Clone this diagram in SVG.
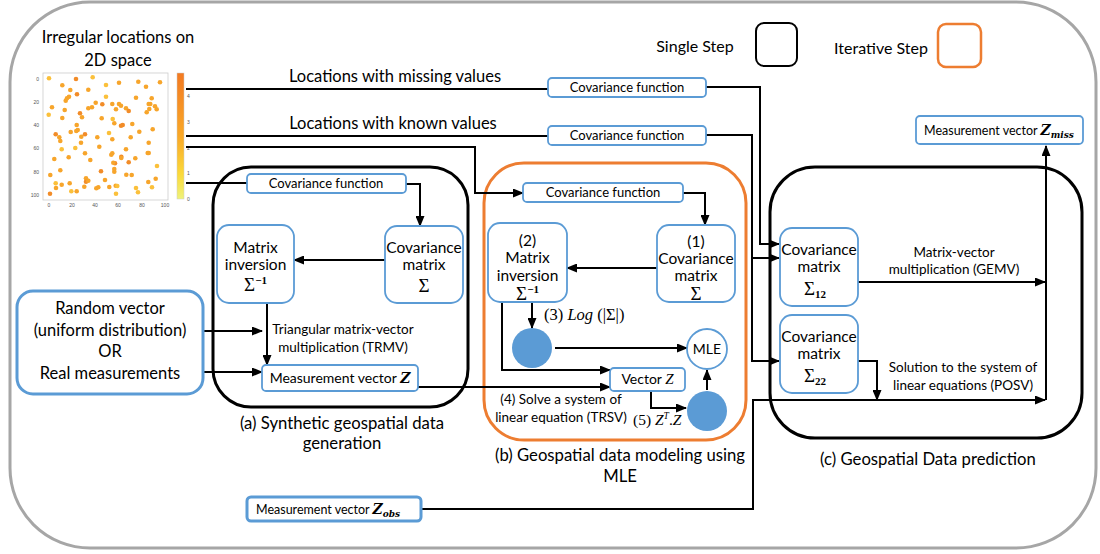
<svg xmlns="http://www.w3.org/2000/svg" width="1100" height="554" viewBox="0 0 1100 554">
<defs>
<marker id="ah" markerUnits="userSpaceOnUse" markerWidth="11" markerHeight="9" refX="10" refY="4.5" orient="auto"><path d="M0,0 L11,4.5 L0,9 z" fill="#000"/></marker>
<linearGradient id="cb" x1="0" y1="0" x2="0" y2="1"><stop offset="0" stop-color="#F37A22"/><stop offset="0.5" stop-color="#F9A827"/><stop offset="0.8" stop-color="#FBD93A"/><stop offset="1" stop-color="#EEF27A"/></linearGradient>
</defs>
<style>
.t{font-family:Lato,"Liberation Sans",sans-serif;fill:#000}
.m{font-family:"Liberation Serif","DejaVu Serif",serif}
.mb{font-family:"DejaVu Serif","Liberation Serif",serif;font-weight:bold;font-style:italic}
.box{fill:#fff;stroke:#5B9BD5;stroke-width:1.8}
.boxT{fill:#fff;stroke:#5B9BD5;stroke-width:3}
.panel{fill:none;stroke:#000;stroke-width:3}
.iter{fill:none;stroke:#ED7D31;stroke-width:3}
.ln{fill:none;stroke:#000;stroke-width:2}
.ar{marker-end:url(#ah)}
.dot{fill:#F7A52B}
.d2{fill:#F28C28}
.d3{fill:#FBC03A}
.tick{font-family:"Liberation Sans",sans-serif;font-size:5px;fill:#555}
</style>
<rect x="10" y="2" width="1086" height="546" rx="80" fill="#fff" stroke="#A6A6A6" stroke-width="3"/>

<g id="title">
<text class="t" x="118" y="43" font-size="16.5" text-anchor="middle">Irregular locations on</text>
<text class="t" x="118" y="66" font-size="16.5" text-anchor="middle">2D space</text>
</g>

<g id="scatter">
<rect x="43" y="73" width="125" height="127" fill="#fff" stroke="#ccc" stroke-width="0.8"/>
<g class="tick" text-anchor="end">
<text x="39" y="81">0</text><text x="39" y="104">20</text><text x="39" y="127">40</text><text x="39" y="150">60</text><text x="39" y="174">80</text><text x="39" y="197">100</text>
</g>
<g class="tick" text-anchor="middle">
<text x="49" y="207">0</text><text x="72" y="207">20</text><text x="95" y="207">40</text><text x="118" y="207">60</text><text x="142" y="207">80</text><text x="165" y="207">100</text>
</g>
<g>
<circle class="d3" cx="49" cy="78.3" r="2.3"/><circle class="dot" cx="62.3" cy="85.3" r="2.3"/><circle class="d2" cx="76" cy="79" r="2.3"/><circle class="d3" cx="92.7" cy="77.3" r="2.3"/>
<circle class="dot" cx="70.3" cy="90" r="2.3"/><circle class="dot" cx="88.3" cy="89.7" r="2.3"/><circle class="d3" cx="106" cy="85" r="2.3"/><circle class="dot" cx="119" cy="82.7" r="2.3"/>
<circle class="dot" cx="138.3" cy="81.7" r="2.3"/><circle class="dot" cx="146" cy="86.7" r="2.3"/><circle class="dot" cx="160" cy="82.3" r="2.3"/><circle class="dot" cx="69" cy="96.7" r="2.3"/>
<circle class="dot" cx="67" cy="98.3" r="2.3"/><circle class="d2" cx="77" cy="94.3" r="2.3"/><circle class="d3" cx="106" cy="96.7" r="2.3"/><circle class="dot" cx="95.7" cy="102.7" r="2.3"/>
<circle class="dot" cx="92" cy="107.3" r="2.3"/><circle class="dot" cx="88.3" cy="108.3" r="2.3"/><circle class="d2" cx="102.3" cy="104.3" r="2.3"/><circle class="dot" cx="112.3" cy="104" r="2.3"/>
<circle class="dot" cx="119" cy="104" r="2.3"/><circle class="dot" cx="121" cy="105.7" r="2.3"/><circle class="dot" cx="116" cy="109.3" r="2.3"/><circle class="dot" cx="126" cy="108.3" r="2.3"/>
<circle class="d2" cx="128.7" cy="111" r="2.3"/><circle class="dot" cx="136" cy="97.7" r="2.3"/><circle class="dot" cx="148.7" cy="104" r="2.3"/><circle class="dot" cx="151.7" cy="98.3" r="2.3"/>
<circle class="dot" cx="150.3" cy="104" r="2.3"/><circle class="dot" cx="155" cy="106.3" r="2.3"/><circle class="dot" cx="146.7" cy="112.3" r="2.3"/><circle class="dot" cx="149.3" cy="109" r="2.3"/>
<circle class="dot" cx="156.7" cy="109.3" r="2.3"/><circle class="dot" cx="52" cy="107.3" r="2.3"/><circle class="dot" cx="65.7" cy="100.7" r="2.3"/><circle class="dot" cx="64.7" cy="110" r="2.3"/>
<circle class="d3" cx="48.7" cy="114.7" r="2.3"/><circle class="dot" cx="62.3" cy="118" r="2.3"/><circle class="d2" cx="80" cy="113.3" r="2.3"/><circle class="dot" cx="82" cy="117.3" r="2.3"/>
<circle class="dot" cx="101.7" cy="118.3" r="2.3"/><circle class="d3" cx="112.7" cy="119" r="2.3"/><circle class="dot" cx="114.3" cy="123.3" r="2.3"/><circle class="d2" cx="121" cy="125.7" r="2.3"/>
<circle class="d2" cx="122.7" cy="125" r="2.3"/><circle class="dot" cx="132.3" cy="124" r="2.3"/><circle class="dot" cx="76.7" cy="125" r="2.3"/><circle class="dot" cx="77.7" cy="130" r="2.3"/>
<circle class="dot" cx="76.3" cy="131" r="2.3"/><circle class="dot" cx="70.7" cy="132" r="2.3"/><circle class="d2" cx="55.7" cy="134.3" r="2.3"/><circle class="dot" cx="59.3" cy="137.3" r="2.3"/>
<circle class="dot" cx="60.3" cy="141" r="2.3"/><circle class="d3" cx="61.7" cy="149.3" r="2.3"/><circle class="dot" cx="81.3" cy="136.7" r="2.3"/><circle class="d2" cx="85" cy="134.3" r="2.3"/>
<circle class="dot" cx="81" cy="142.7" r="2.3"/><circle class="dot" cx="97.3" cy="137.3" r="2.3"/><circle class="d3" cx="109" cy="133" r="2.3"/><circle class="dot" cx="99.3" cy="146.7" r="2.3"/>
<circle class="dot" cx="112.3" cy="139.3" r="2.3"/><circle class="dot" cx="130.7" cy="137.3" r="2.3"/><circle class="dot" cx="139.3" cy="131.7" r="2.3"/><circle class="dot" cx="148.7" cy="142.7" r="2.3"/>
<circle class="dot" cx="152.7" cy="129.3" r="2.3"/><circle class="d3" cx="75.3" cy="148" r="2.3"/><circle class="dot" cx="85" cy="153.3" r="2.3"/><circle class="dot" cx="90.3" cy="160" r="2.3"/>
<circle class="dot" cx="68.7" cy="157.3" r="2.3"/><circle class="dot" cx="54.3" cy="159" r="2.3"/><circle class="dot" cx="60.3" cy="170.3" r="2.3"/><circle class="dot" cx="50.3" cy="175" r="2.3"/>
<circle class="d2" cx="101" cy="171.3" r="2.3"/><circle class="dot" cx="111.3" cy="154.7" r="2.3"/><circle class="dot" cx="112.3" cy="153.3" r="2.3"/><circle class="d2" cx="115" cy="163.3" r="2.3"/>
<circle class="dot" cx="114.3" cy="169" r="2.3"/><circle class="dot" cx="114.3" cy="171.7" r="2.3"/><circle class="dot" cx="113.3" cy="162.7" r="2.3"/><circle class="d2" cx="121.3" cy="156.7" r="2.3"/>
<circle class="dot" cx="121.3" cy="158" r="2.3"/><circle class="dot" cx="126" cy="149.3" r="2.3"/><circle class="d2" cx="128.7" cy="162.3" r="2.3"/><circle class="dot" cx="135.3" cy="158.3" r="2.3"/>
<circle class="dot" cx="147.7" cy="153" r="2.3"/><circle class="dot" cx="148.7" cy="153" r="2.3"/><circle class="d3" cx="157" cy="166" r="2.3"/><circle class="dot" cx="131.7" cy="175" r="2.3"/>
<circle class="dot" cx="126.3" cy="174.7" r="2.3"/><circle class="dot" cx="105" cy="180" r="2.3"/><circle class="dot" cx="86" cy="178.3" r="2.3"/><circle class="d2" cx="86" cy="181.7" r="2.3"/>
<circle class="dot" cx="88.3" cy="180.7" r="2.3"/><circle class="dot" cx="69.7" cy="183.3" r="2.3"/><circle class="d3" cx="55.7" cy="183.3" r="2.3"/><circle class="dot" cx="61.7" cy="184.7" r="2.3"/>
<circle class="dot" cx="56" cy="188" r="2.3"/><circle class="d3" cx="71.3" cy="191.3" r="2.3"/><circle class="dot" cx="76.7" cy="191.3" r="2.3"/><circle class="d2" cx="50" cy="193.7" r="2.3"/>
<circle class="dot" cx="96.3" cy="188.3" r="2.3"/><circle class="dot" cx="98.3" cy="187.3" r="2.3"/><circle class="dot" cx="109.3" cy="187" r="2.3"/><circle class="dot" cx="115.7" cy="185.7" r="2.3"/>
<circle class="d3" cx="117.3" cy="186" r="2.3"/><circle class="dot" cx="84.3" cy="186.7" r="2.3"/><circle class="d3" cx="136" cy="188" r="2.3"/><circle class="d3" cx="138" cy="192.3" r="2.3"/>
<circle class="dot" cx="148.3" cy="182" r="2.3"/><circle class="d3" cx="152" cy="187.3" r="2.3"/><circle class="dot" cx="155.7" cy="178.7" r="2.3"/><circle class="d3" cx="116" cy="193.7" r="2.3"/>
</g>
<rect x="177" y="73" width="7" height="126" fill="url(#cb)" stroke="#ccc" stroke-width="0.5"/>
<g class="tick">
<text x="187" y="98">4</text><text x="187" y="124">3</text><text x="187" y="150">2</text><text x="187" y="175">1</text><text x="187" y="201">0</text>
</g>
</g>

<g id="legend">
<text class="t" x="695" y="52" font-size="16" text-anchor="middle">Single Step</text>
<rect x="756" y="23" width="41" height="43" rx="8" fill="none" stroke="#000" stroke-width="2"/>
<text class="t" x="881" y="54" font-size="16" text-anchor="middle">Iterative Step</text>
<rect x="938" y="24" width="43" height="43" rx="8" fill="none" stroke="#ED7D31" stroke-width="2.5"/>
</g>

<g id="panels">
<rect id="panel-a" class="panel" x="213" y="167" width="255" height="240" rx="38"/>
<rect id="panel-b" class="iter" x="484" y="163" width="262" height="277" rx="40"/>
<rect id="panel-c" class="panel" x="770" y="167" width="312" height="271" rx="45"/>
</g>

<g id="connectors">
<path class="ln" d="M186,89 H548"/>
<path class="ln ar" d="M706,87 H760 V244 H779"/>
<path class="ln" d="M186,136 H548"/>
<path class="ln ar" d="M706,135 H752 V361 H779"/>
<path class="ln ar" d="M752,258 H779"/>
<path class="ln ar" d="M186,147 H475 V193 H523"/>
<path class="ln" d="M186,183 H247"/>
<path class="ln ar" d="M406,184 H420 V226"/>
<path class="ln ar" d="M385,260 H294"/>
<path class="ln ar" d="M267,303 V365"/>
<path class="ln ar" d="M203,331 H262"/>
<path class="ln ar" d="M203,372 H262"/>
<path class="ln ar" d="M418,387 H610"/>
<path class="ln ar" d="M683,193 H705 V225"/>
<path class="ln ar" d="M657,268 H567"/>
<path class="ln ar" d="M532,302 V328"/>
<path class="ln ar" d="M502,302 V370 H610"/>
<path class="ln ar" d="M555,348 H687"/>
<path class="ln ar" d="M651,391 V408 H686"/>
<path class="ln ar" d="M707,390 V370"/>
<path class="ln ar" d="M421,509 H753 V400 H1045"/>
<path class="ln ar" d="M858,361 H877 V400"/>
<path class="ln ar" d="M858,282 H1045"/>
<path class="ln ar" d="M1046,400 V146"/>
</g>

<g id="edge-labels">
<text class="t" x="395" y="82" font-size="16.5" text-anchor="middle">Locations with missing values</text>
<text class="t" x="393" y="129" font-size="16.5" text-anchor="middle">Locations with known values</text>
<text class="t" x="343" y="334" font-size="13.5" text-anchor="middle">Triangular matrix-vector</text>
<text class="t" x="343" y="352" font-size="13.5" text-anchor="middle">multiplication (TRMV)</text>
<text class="m" x="544" y="320" font-size="16.5">(3) <tspan font-style="italic">Log</tspan> (|Σ|)</text>
<text class="t" x="561" y="404" font-size="13.5" text-anchor="middle">(4)  Solve a system of</text>
<text class="t" x="561" y="422" font-size="13.5" text-anchor="middle">linear equation (TRSV)</text>
<text class="m" x="633" y="425" font-size="15.5">(5) <tspan font-style="italic">Z</tspan><tspan font-style="italic" font-size="9.5" dy="-6">T</tspan><tspan dy="6">.</tspan><tspan font-style="italic">Z</tspan></text>
<text class="t" x="954" y="257" font-size="13.5" text-anchor="middle">Matrix-vector</text>
<text class="t" x="954" y="274" font-size="13.5" text-anchor="middle">multiplication (GEMV)</text>
<text class="t" x="963" y="372" font-size="13.5" text-anchor="middle">Solution to the system of</text>
<text class="t" x="963" y="390" font-size="13.5" text-anchor="middle">linear equations (POSV)</text>
</g>

<g id="captions">
<text class="t" x="342" y="429" font-size="16.7" text-anchor="middle">(a) Synthetic geospatial data</text>
<text class="t" x="342" y="449" font-size="16.7" text-anchor="middle">generation</text>
<text class="t" x="620" y="461" font-size="16.7" text-anchor="middle">(b) Geospatial data modeling using</text>
<text class="t" x="620" y="482" font-size="16.7" text-anchor="middle">MLE</text>
<text class="t" x="928" y="465" font-size="16.7" text-anchor="middle">(c) Geospatial Data prediction</text>
</g>

<g id="cov-func-missing"><rect class="box" x="548" y="78" width="158" height="19" rx="4"/><text class="t" x="627" y="92" font-size="13" text-anchor="middle">Covariance function</text></g>
<g id="cov-func-known"><rect class="box" x="548" y="126" width="158" height="19" rx="4"/><text class="t" x="627" y="140" font-size="13" text-anchor="middle">Covariance function</text></g>
<g id="z-miss"><rect class="box" x="916" y="116" width="167" height="28" rx="4"/><text class="t" x="924" y="135" font-size="12.5">Measurement vector <tspan class="mb" font-size="14">Z</tspan><tspan class="mb" font-size="9" dy="3">miss</tspan></text></g>

<g id="a-cov-func"><rect class="box" x="247" y="174" width="159" height="19" rx="4"/><text class="t" x="326" y="188" font-size="13" text-anchor="middle">Covariance function</text></g>
<g id="a-mat-inv"><rect class="box" x="217" y="225" width="77" height="78" rx="12"/>
<text class="t" x="255.5" y="253" font-size="15.5" text-anchor="middle">Matrix</text>
<text class="t" x="255.5" y="270" font-size="15.5" text-anchor="middle">inversion</text>
<text class="m" x="255.5" y="291" font-size="19" text-anchor="middle">Σ<tspan font-size="11" font-weight="bold" dy="-7">−1</tspan></text></g>
<g id="a-cov-mat"><rect class="box" x="385" y="226" width="78" height="77" rx="12"/>
<text class="t" x="424" y="253" font-size="15.5" text-anchor="middle">Covariance</text>
<text class="t" x="424" y="270" font-size="15.5" text-anchor="middle">matrix</text>
<text class="m" x="424" y="292" font-size="19" text-anchor="middle">Σ</text></g>
<g id="a-meas"><rect class="box" x="262" y="365" width="156" height="26" rx="4"/><text class="t" x="340" y="383" font-size="14" text-anchor="middle">Measurement vector <tspan class="mb" font-size="14">Z</tspan></text></g>

<g id="random-vector"><rect class="boxT" x="17" y="291" width="186" height="103" rx="16"/>
<text class="t" x="110" y="314" font-size="16.5" text-anchor="middle">Random vector</text>
<text class="t" x="110" y="336" font-size="16.5" text-anchor="middle">(uniform distribution)</text>
<text class="t" x="110" y="357" font-size="16.5" text-anchor="middle">OR</text>
<text class="t" x="110" y="379" font-size="16.5" text-anchor="middle">Real measurements</text></g>

<g id="b-cov-func"><rect class="box" x="523" y="183" width="160" height="19" rx="4"/><text class="t" x="603" y="197" font-size="13" text-anchor="middle">Covariance function</text></g>
<g id="b-mat-inv"><rect class="box" x="488" y="223" width="79" height="79" rx="12"/>
<text class="t" x="527.5" y="246" font-size="15.5" text-anchor="middle">(2)</text>
<text class="t" x="527.5" y="263" font-size="15.5" text-anchor="middle">Matrix</text>
<text class="t" x="527.5" y="281" font-size="15.5" text-anchor="middle">inversion</text>
<text class="m" x="527.5" y="300" font-size="19" text-anchor="middle">Σ<tspan font-size="11" font-weight="bold" dy="-7">−1</tspan></text></g>
<g id="b-cov-mat"><rect class="box" x="657" y="225" width="78" height="77" rx="12"/>
<text class="t" x="696" y="247" font-size="15.5" text-anchor="middle">(1)</text>
<text class="t" x="696" y="264" font-size="15.5" text-anchor="middle">Covariance</text>
<text class="t" x="696" y="281" font-size="15.5" text-anchor="middle">matrix</text>
<text class="m" x="696" y="300" font-size="19" text-anchor="middle">Σ</text></g>
<g id="b-log"><circle cx="532" cy="348" r="20" fill="#5B9BD5"/></g>
<g id="b-mle"><circle cx="707" cy="349" r="20" fill="#fff" stroke="#5B9BD5" stroke-width="1.8"/><text class="t" x="707" y="354" font-size="14" text-anchor="middle">MLE</text></g>
<g id="b-vector-z"><rect class="box" x="610" y="368" width="75" height="23" rx="4"/><text class="t" x="647.5" y="384" font-size="14" text-anchor="middle">Vector <tspan class="m" font-style="italic" font-size="15">Z</tspan></text></g>
<g id="b-ztz"><circle cx="707" cy="411" r="20" fill="#5B9BD5"/></g>

<g id="c-sigma12"><rect class="box" x="780" y="228" width="78" height="78" rx="12"/>
<text class="t" x="819" y="255" font-size="15.5" text-anchor="middle">Covariance</text>
<text class="t" x="819" y="272" font-size="15.5" text-anchor="middle">matrix</text>
<text class="m" x="815" y="295" font-size="19" text-anchor="middle">Σ<tspan font-size="11" font-weight="bold" dy="3">12</tspan></text></g>
<g id="c-sigma22"><rect class="box" x="780" y="315" width="78" height="78" rx="12"/>
<text class="t" x="819" y="342" font-size="15.5" text-anchor="middle">Covariance</text>
<text class="t" x="819" y="359" font-size="15.5" text-anchor="middle">matrix</text>
<text class="m" x="815" y="382" font-size="19" text-anchor="middle">Σ<tspan font-size="11" font-weight="bold" dy="3">22</tspan></text></g>

<g id="z-obs"><rect class="boxT" x="247" y="497" width="174" height="24" rx="4"/><text class="t" x="256" y="514" font-size="12.5">Measurement vector <tspan class="mb" font-size="14">Z</tspan><tspan class="mb" font-size="9" dy="3">obs</tspan></text></g>
</svg>
